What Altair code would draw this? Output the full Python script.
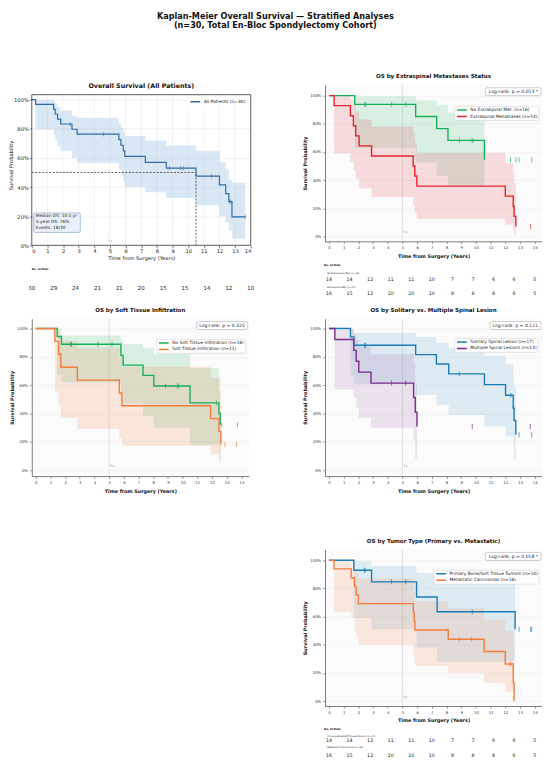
import altair as alt
import pandas as pd

FONT = "DejaVu Sans"

# ------------------------------------------------------------------ data
x_ticks = list(range(15))
y_ticks = [0.0, 0.2, 0.4, 0.6, 0.8, 1.0]
risk_times = [0, 1.4, 2.8, 4.2, 5.6, 7.0, 8.4, 9.8, 11.2, 12.6, 14.0]

# Panel 1 - all patients
all_t = [0, 0.25, 1.4, 1.5, 1.65, 1.85, 2.57, 2.9, 5.57, 5.7, 5.85, 5.95, 7.26, 8.6, 10.5, 12.0, 12.4, 12.6, 12.8, 13.65]
all_s = [1.0, 0.967, 0.933, 0.90, 0.867, 0.833, 0.797, 0.763, 0.725, 0.687, 0.649, 0.61, 0.569, 0.53, 0.475, 0.415, 0.355, 0.30, 0.195, 0.195]
all_cens = [2.45, 4.6, 8.8, 9.53, 9.7, 11.5, 12.65, 12.72, 13.65]
all_band_t = [0.25, 1.4, 1.5, 1.65, 1.85, 2.57, 2.9, 5.57, 5.7, 5.85, 5.95, 7.26, 8.6, 10.5, 12.0, 12.4, 12.6, 12.8, 13.65]
all_band_lo = [0.795, 0.76, 0.72, 0.68, 0.65, 0.60, 0.565, 0.52, 0.48, 0.44, 0.40, 0.365, 0.325, 0.275, 0.20, 0.16, 0.10, 0.045, 0.045]
all_band_hi = [1.0, 0.99, 0.975, 0.95, 0.925, 0.89, 0.875, 0.84, 0.81, 0.78, 0.75, 0.72, 0.685, 0.65, 0.57, 0.52, 0.45, 0.43, 0.43]
all_risk = [30, 29, 24, 21, 21, 20, 15, 15, 14, 12, 10]
median_os = 10.5
stats_text = "Median OS: 10.5 yr\n5-year OS: 76%\nEvents: 18/30"

# Panel 2 - extraspinal metastases
noext_t = [0, 1.75, 5.9, 7.33, 8.1, 10.58]
noext_s = [1.0, 0.938, 0.852, 0.766, 0.682, 0.545]
noext_cens = [2.43, 2.5, 4.27, 5.24, 8.88, 9.73, 9.8, 12.36, 12.72, 12.94, 13.8]
noext_band_t = [1.75, 5.9, 7.33, 8.1, 10.58]
noext_band_lo = [0.63, 0.525, 0.43, 0.365, 0.365]
noext_band_hi = [0.995, 0.965, 0.935, 0.88, 0.88]
ext_t = [0, 0.35, 1.46, 1.66, 1.82, 2.05, 2.9, 5.73, 5.84, 5.98, 12.0, 12.54, 12.6, 12.72]
ext_s = [1.0, 0.929, 0.857, 0.786, 0.714, 0.643, 0.571, 0.50, 0.429, 0.357, 0.286, 0.214, 0.143, 0.071]
ext_cens = [13.73]
ext_band_t = [0.35, 1.46, 1.66, 1.82, 2.05, 2.9, 5.73, 5.84, 5.98, 12.0, 12.54, 12.6, 12.72]
ext_band_lo = [0.59, 0.53, 0.47, 0.41, 0.34, 0.28, 0.22, 0.17, 0.125, 0.085, 0.04, 0.015, 0.015]
ext_band_hi = [0.995, 0.97, 0.935, 0.885, 0.83, 0.78, 0.73, 0.665, 0.595, 0.52, 0.45, 0.38, 0.38]

# Panel 3 - soft tissue infiltration
nost_t = [0, 1.46, 1.75, 5.8, 5.95, 7.3, 8.04, 10.5, 12.47, 12.56]
nost_s = [1.0, 0.944, 0.889, 0.81, 0.742, 0.669, 0.594, 0.475, 0.40, 0.32]
nost_cens = [2.36, 2.43, 4.22, 5.19, 8.83, 9.64, 9.73, 12.3, 12.65, 13.73]
nost_band_t = [1.46, 1.75, 5.8, 5.95, 7.3, 8.04, 10.5, 12.47, 12.56]
nost_band_lo = [0.67, 0.62, 0.55, 0.47, 0.38, 0.30, 0.18, 0.12, 0.12]
nost_band_hi = [1.0, 0.95, 0.92, 0.89, 0.86, 0.82, 0.72, 0.66, 0.66]
st_t = [0, 1.3, 1.55, 1.71, 2.83, 5.69, 5.87, 11.9, 12.47, 12.6]
st_s = [1.0, 0.909, 0.818, 0.727, 0.636, 0.545, 0.455, 0.364, 0.273, 0.182]
st_cens = [12.88, 13.66]
st_band_t = [1.3, 1.55, 1.71, 2.83, 5.69, 5.87, 11.9, 12.47, 12.6]
st_band_lo = [0.55, 0.46, 0.37, 0.29, 0.23, 0.17, 0.11, 0.06, 0.06]
st_band_hi = [0.99, 0.95, 0.91, 0.86, 0.80, 0.73, 0.65, 0.56, 0.56]

# Panel 4 - solitary vs multiple spinal lesion
sol_t = [0, 1.46, 1.69, 5.9, 7.31, 8.15, 10.58, 12.02, 12.54, 12.6, 12.72]
sol_s = [1.0, 0.941, 0.882, 0.816, 0.75, 0.68, 0.604, 0.529, 0.437, 0.351, 0.25]
sol_cens = [2.41, 2.48, 8.87, 12.38, 12.94, 13.8]
sol_band_t = [1.46, 1.69, 5.9, 7.31, 8.15, 10.58, 12.02, 12.54, 12.6, 12.72]
sol_band_lo = [0.67, 0.61, 0.53, 0.46, 0.39, 0.31, 0.24, 0.15, 0.08, 0.08]
sol_band_hi = [1.0, 0.97, 0.94, 0.90, 0.86, 0.81, 0.75, 0.67, 0.59, 0.59]
mult_t = [0, 0.4, 1.69, 1.85, 2.03, 2.86, 5.76, 5.87, 5.99]
mult_s = [1.0, 0.923, 0.846, 0.769, 0.692, 0.615, 0.513, 0.41, 0.308]
mult_cens = [4.25, 5.22, 9.75, 13.7]
mult_band_t = [0.4, 1.69, 1.85, 2.03, 2.86, 5.76, 5.87, 5.99]
mult_band_lo = [0.57, 0.51, 0.44, 0.37, 0.30, 0.22, 0.08, 0.08]
mult_band_hi = [0.99, 0.96, 0.92, 0.87, 0.82, 0.75, 0.60, 0.60]

# Panel 5 - tumour type
prim_t = [0, 1.69, 2.9, 5.96, 7.36, 12.67]
prim_s = [1.0, 0.929, 0.847, 0.739, 0.634, 0.51]
prim_cens = [2.41, 2.46, 4.25, 5.22, 9.75, 12.94, 13.73, 13.8]
prim_band_t = [1.69, 2.9, 5.96, 7.36, 12.67]
prim_band_lo = [0.59, 0.51, 0.38, 0.28, 0.28]
prim_band_hi = [0.993, 0.96, 0.91, 0.85, 0.85]
meta_t = [0, 0.34, 1.51, 1.73, 1.85, 2.0, 5.74, 5.8, 5.85, 8.12, 10.56, 12.0, 12.54, 12.6]
meta_s = [1.0, 0.939, 0.876, 0.813, 0.754, 0.692, 0.629, 0.567, 0.505, 0.439, 0.352, 0.263, 0.131, 0.0]
meta_cens = [8.87, 9.72, 12.36]
meta_band_t = [0.34, 1.51, 1.73, 1.85, 2.0, 5.74, 5.8, 5.85, 8.12, 10.56, 12.0, 12.54, 12.6]
meta_band_lo = [0.634, 0.59, 0.50, 0.45, 0.40, 0.33, 0.29, 0.25, 0.20, 0.13, 0.066, 0.01, 0.01]
meta_band_hi = [0.99, 0.97, 0.94, 0.91, 0.87, 0.82, 0.77, 0.71, 0.657, 0.58, 0.50, 0.35, 0.35]

risk_row1 = [14, 14, 12, 11, 11, 10, 7, 7, 6, 6, 5]
risk_row2 = [16, 15, 12, 10, 10, 10, 8, 8, 8, 6, 5]

GREEN, RED, ORANGE, BLUE, PURPLE = "#1aae5a", "#e3232c", "#f47b3b", "#1b7db6", "#7b2b8f"


def surv_at(ts, ss, t):
    v = ss[0]
    for ti, si in zip(ts, ss):
        if ti <= t + 1e-9:
            v = si
    return v


def curve(name, color, alpha, t, s, bt, blo, bhi, cens):
    return dict(name=name, color=color, alpha=alpha, t=t, s=s, bt=bt, blo=blo, bhi=bhi, cens=cens)


def lines_df(curves):
    rows = []
    for c in curves:
        for t, s in zip(c["t"], c["s"]):
            rows.append({"t": t, "s": s, "group": c["name"]})
    return pd.DataFrame(rows)


def one(**kw):
    return pd.DataFrame({k: [v] for k, v in kw.items()})


# ------------------------------------------------------------ stratified panels
SW = 219
SXD = [-0.27, 14.5]


def strat_panel(title, curves, logrank, leg_xy, height, ydom, risk=None):
    xs = alt.Scale(domain=SXD, nice=False, zero=False)
    ys = alt.Scale(domain=ydom, nice=False, zero=False)
    xa = alt.Axis(values=x_ticks, format="d", labelFontSize=3.9, labelPadding=2.2,
                  tickSize=2.4, tickWidth=0.5, tickColor="#444444", domainColor="#444444",
                  domainWidth=0.7, labelColor="#333333", grid=False,
                  titleFontSize=4.9, titleFontWeight="bold", titlePadding=3.6, titleColor="#111111")
    ya = alt.Axis(values=y_ticks, format=".0%", labelFontSize=3.9, labelPadding=1.8,
                  tickSize=2.5, tickWidth=0.5, tickColor="#444444", domainColor="#444444",
                  domainWidth=0.7, labelColor="#333333", grid=True, gridColor="#ebebeb",
                  gridWidth=0.5, titleFontSize=4.9, titleFontWeight="bold", titlePadding=2.3,
                  titleColor="#111111")

    def X(f):
        return alt.X(f + ":Q", scale=xs, axis=xa, title="Time from Surgery (Years)")

    def Y(f):
        return alt.Y(f + ":Q", scale=ys, axis=ya, title="Survival Probability")

    layers = [alt.Chart(one(t=5)).mark_rule(color="#d2d2d2", strokeWidth=0.6).encode(x=X("t"))]
    for c in curves:
        bd = pd.DataFrame({"t": c["bt"], "lo": c["blo"], "hi": c["bhi"]})
        layers.append(alt.Chart(bd).mark_area(interpolate="step-after", color=c["color"],
                                              opacity=c["alpha"])
                      .encode(x=X("t"), y=Y("lo"), y2=alt.Y2("hi")))
    names = [c["name"] for c in curves]
    cols = [c["color"] for c in curves]
    legend = alt.Legend(orient="none", legendX=leg_xy[0], legendY=leg_xy[1], title=None,
                        direction="vertical", labelFontSize=4.4, labelColor="#222222",
                        symbolType="stroke", symbolStrokeWidth=1.5, symbolSize=100,
                        clipHeight=4.6, rowPadding=0.6, labelOffset=2.5, padding=1.2,
                        fillColor="white", strokeColor="#cccccc",
                        cornerRadius=1.5, labelLimit=300)
    layers.append(alt.Chart(lines_df(curves)).mark_line(interpolate="step-after", strokeWidth=1.4)
                  .encode(x=X("t"), y=Y("s"),
                          color=alt.Color("group:N", scale=alt.Scale(domain=names, range=cols),
                                          sort=names, legend=legend)))
    for c in curves:
        cd = pd.DataFrame({"t": c["cens"], "s": [surv_at(c["t"], c["s"], v) for v in c["cens"]]})
        layers.append(alt.Chart(cd).mark_tick(orient="vertical", color=c["color"], size=5, thickness=1)
                      .encode(x=X("t"), y=Y("s")))
    layers.append(alt.Chart(one(t=5.2, y=0.03, lab="5y"))
                  .mark_text(fontSize=3.5, color="#aaaaaa", align="center", baseline="middle")
                  .encode(x=X("t"), y=Y("y"), text="lab:N"))
    # log-rank annotation (axes-fraction placement)
    bw = len(logrank) * 4.6 * 0.52 + 6
    layers.append(alt.Chart(one(lab=logrank))
                  .mark_rect(fill="white", stroke="#aaaaaa", strokeWidth=0.6, cornerRadius=1.5)
                  .encode(x=alt.value(SW - 1 - bw), x2=alt.value(SW - 1), y=alt.value(3), y2=alt.value(11)))
    layers.append(alt.Chart(one(lab=logrank))
                  .mark_text(fontSize=4.6, align="right", baseline="middle", color="#222222")
                  .encode(x=alt.value(SW - 4), y=alt.value(7.2), text="lab:N"))
    if risk is not None:
        layers.append(alt.Chart(one(t=-0.34, y=risk["nar_y"], lab="No. at Risk:"))
                      .mark_text(fontSize=2.65, fontWeight="bold", align="left", baseline="middle",
                                 color="#111111")
                      .encode(x=X("t"), y=Y("y"), text="lab:N"))
        for lab, ly, vals, ny in risk["rows"]:
            layers.append(alt.Chart(one(t=-0.12, y=ly, lab=lab))
                          .mark_text(fontSize=2.4, align="left", baseline="middle", color="#222222")
                          .encode(x=X("t"), y=Y("y"), text="lab:N"))
            rd = pd.DataFrame({"t": risk_times, "y": [ny] * len(vals), "n": vals})
            layers.append(alt.Chart(rd)
                          .mark_text(fontSize=4.8, align="center", baseline="middle", color="#1a1a1a")
                          .encode(x=X("t"), y=Y("y"), text="n:Q"))
    return alt.layer(*layers).properties(
        width=SW, height=height,
        title=alt.TitleParams(title, fontSize=5.6, fontWeight="bold", offset=5, color="#111111"),
        view=alt.ViewBackground(fill="#fbfbfb", stroke=None))


# ------------------------------------------------------------ overall panel
P1W, P1H = 221, 162
P1XD = [0, 14]
P1YD = [0, 1.102]
P1_TOP = 1.034


def overall_panel():
    xs = alt.Scale(domain=P1XD, nice=False, zero=False)
    ys = alt.Scale(domain=P1YD, nice=False, zero=False)
    xa = alt.Axis(values=x_ticks, format="d", labelFontSize=5.2, labelPadding=0.8, tickSize=2.5,
                  tickWidth=0.6, tickColor="#333333", domain=False, grid=False, labelColor="#222222",
                  titleFontSize=5.2, titleFontWeight="normal", titlePadding=1.9, titleColor="#222222")
    ya = alt.Axis(values=y_ticks, format=".0%", labelFontSize=5.2, labelPadding=1, tickSize=2.5,
                  tickWidth=0.6, tickColor="#333333", domain=False, grid=True, gridColor="#e3e3e3",
                  gridWidth=0.5, labelColor="#222222", titleFontSize=5.2, titleFontWeight="normal",
                  titlePadding=0, titleColor="#222222")

    def X(f):
        return alt.X(f + ":Q", scale=xs, axis=xa, title="Time from Surgery (Years)")

    def Y(f):
        return alt.Y(f + ":Q", scale=ys, axis=ya, title="Survival Probability")

    grid = pd.DataFrame({"t": x_ticks[1:-1], "y0": 0.0, "y1": P1_TOP})
    layers = [alt.Chart(grid).mark_rule(color="#e3e3e3", strokeWidth=0.5)
              .encode(x=X("t"), y=Y("y0"), y2=alt.Y2("y1"))]
    bd = pd.DataFrame({"t": all_band_t, "lo": all_band_lo, "hi": all_band_hi})
    layers.append(alt.Chart(bd).mark_area(interpolate="step-after", color="#9ec0e4", opacity=0.38)
                  .encode(x=X("t"), y=Y("lo"), y2=alt.Y2("hi")))
    med = pd.DataFrame({"x0": [0, median_os], "x1": [median_os, median_os],
                        "y0": [0.5, 0.0], "y1": [0.5, 0.5]})
    layers.append(alt.Chart(med).mark_rule(color="#222222", strokeWidth=0.7, strokeDash=[2, 1.5])
                  .encode(x=X("x0"), x2=alt.X2("x1"), y=Y("y0"), y2=alt.Y2("y1")))
    name = "All Patients (n=30)"
    ld = pd.DataFrame({"t": all_t, "s": all_s, "group": name})
    legend = alt.Legend(orient="none", legendX=158, legendY=13.5, title=None, direction="vertical",
                        labelFontSize=4.5, labelColor="#222222", symbolType="stroke",
                        symbolStrokeWidth=1.5, symbolSize=100, clipHeight=5, labelOffset=2.5,
                        padding=1, fillColor="white", labelLimit=300)
    layers.append(alt.Chart(ld).mark_line(interpolate="step-after", strokeWidth=1.2)
                  .encode(x=X("t"), y=Y("s"),
                          color=alt.Color("group:N", scale=alt.Scale(domain=[name], range=["#2e6da4"]),
                                          legend=legend)))
    cd = pd.DataFrame({"t": all_cens, "s": [surv_at(all_t, all_s, v) for v in all_cens]})
    layers.append(alt.Chart(cd).mark_tick(orient="vertical", color="#2e6da4", size=4.5, thickness=0.8)
                  .encode(x=X("t"), y=Y("s")))
    layers.append(alt.Chart(one(t=5.0, y=0.027, lab="5y"))
                  .mark_text(fontSize=3.5, color="#aaaaaa", align="center", baseline="middle")
                  .encode(x=X("t"), y=Y("y"), text="lab:N"))
    frame = one(x0=0.0, x1=14.0, y0=0.0, y1=P1_TOP)
    layers.append(alt.Chart(frame).mark_rect(fill="white", fillOpacity=0, stroke="#333333", strokeWidth=0.8)
                  .encode(x=X("x0"), x2=alt.X2("x1"), y=Y("y0"), y2=alt.Y2("y1")))
    layers.append(alt.Chart(one(lab=stats_text))
                  .mark_rect(fill="#e9f0fa", stroke="#7d9ccc", strokeWidth=0.6, cornerRadius=1.5)
                  .encode(x=alt.value(2), x2=alt.value(49), y=alt.value(129.3), y2=alt.value(149)))
    layers.append(alt.Chart(one(lab=stats_text))
                  .mark_text(fontSize=4.35, align="left", baseline="middle", lineBreak="\n",
                             lineHeight=5.8, color="#222222")
                  .encode(x=alt.value(4), y=alt.value(132.7), text="lab:N"))
    layers.append(alt.Chart(one(t=0.0, y=-0.165, lab="No. at Risk:"))
                  .mark_text(fontSize=2.65, fontWeight="bold", align="left", baseline="middle", color="#111111")
                  .encode(x=X("t"), y=Y("y"), text="lab:N"))
    rd = pd.DataFrame({"t": risk_times, "y": -0.29, "n": all_risk})
    layers.append(alt.Chart(rd).mark_text(fontSize=5.5, align="center", baseline="middle", color="#1a1a1a")
                  .encode(x=X("t"), y=Y("y"), text="n:Q"))
    return alt.layer(*layers).properties(
        width=P1W, height=P1H,
        title=alt.TitleParams("Overall Survival (All Patients)", fontSize=6.4, fontWeight="bold",
                              offset=-4.7, color="#111111"),
        view=alt.ViewBackground(fill="white", stroke=None))


# ------------------------------------------------------------ assemble
p1 = overall_panel()

YD_A = [-0.035, 1.077]   # rows 1 and 3 (158 px tall)
YD_B = [-0.042, 1.07]    # row 2 (159 px tall)

p2 = strat_panel(
    "OS by Extraspinal Metastases Status",
    [curve("No Extraspinal Met. (n=16)", GREEN, 0.15, noext_t, noext_s, noext_band_t, noext_band_lo, noext_band_hi, noext_cens),
     curve("Extraspinal Metastases (n=14)", RED, 0.15, ext_t, ext_s, ext_band_t, ext_band_lo, ext_band_hi, ext_cens)],
    "Log-rank: p = 0.013 *", (131, 22), 158, YD_A,
    risk={"nar_y": -0.204,
          "rows": [("No Extraspinal Met. (n=16)", -0.26, risk_row1, -0.31),
                   ("Extraspinal Met. (n=14)", -0.359, risk_row2, -0.408)]})

p3 = strat_panel(
    "OS by Soft Tissue Infiltration",
    [curve("No Soft Tissue Infiltration (n=18)", GREEN, 0.15, nost_t, nost_s, nost_band_t, nost_band_lo, nost_band_hi, nost_cens),
     curve("Soft Tissue Infiltration (n=11)", ORANGE, 0.17, st_t, st_s, st_band_t, st_band_lo, st_band_hi, st_cens)],
    "Log-rank: p = 0.325", (126, 21), 159, YD_B)

p4 = strat_panel(
    "OS by Solitary vs. Multiple Spinal Lesion",
    [curve("Solitary Spinal Lesion (n=17)", BLUE, 0.12, sol_t, sol_s, sol_band_t, sol_band_lo, sol_band_hi, sol_cens),
     curve("Multiple Spinal Lesions (n=13)", PURPLE, 0.12, mult_t, mult_s, mult_band_t, mult_band_lo, mult_band_hi, mult_cens)],
    "Log-rank: p = 0.121", (131, 20), 159, YD_B)

p5 = strat_panel(
    "OS by Tumor Type (Primary vs. Metastatic)",
    [curve("Primary Bone/Soft Tissue Tumors (n=14)", BLUE, 0.12, prim_t, prim_s, prim_band_t, prim_band_lo, prim_band_hi, prim_cens),
     curve("Metastatic Carcinomas (n=16)", ORANGE, 0.15, meta_t, meta_s, meta_band_t, meta_band_lo, meta_band_hi, meta_cens)],
    "Log-rank: p = 0.018 *", (110, 21), 158, YD_A,
    risk={"nar_y": -0.199,
          "rows": [("Primary Bone/Soft Tissue Tumors (n=14)", -0.246, risk_row1, -0.286),
                   ("Metastatic Carcinomas (n=16)", -0.326, risk_row2, -0.387)]})

spacer = (alt.Chart(one(v=0))
          .mark_point(opacity=0)
          .encode(x=alt.X("v:Q", axis=None), y=alt.Y("v:Q", axis=None))
          .properties(width=SW, height=158, view=alt.ViewBackground(stroke=None)))

chart = alt.concat(
    p1, p2, p3, p4, spacer, p5,
    columns=2,
    spacing={"row": 74, "column": 75},
    bounds="flush",
    align="each",
    title=alt.TitleParams(
        text=["Kaplan-Meier Overall Survival \u2014 Stratified Analyses",
              "(n=30, Total En-Bloc Spondylectomy Cohort)"],
        fontSize=8.2, fontWeight="bold", lineHeight=9, offset=44.5, anchor="middle", color="#111111"),
).resolve_scale(color="independent").resolve_legend(color="independent").properties(
    padding=0).configure(font=FONT).configure_view(stroke=None).configure_legend(strokeWidth=0.5)

chart.save("out.html", embed_options={"renderer": "svg", "actions": False})
